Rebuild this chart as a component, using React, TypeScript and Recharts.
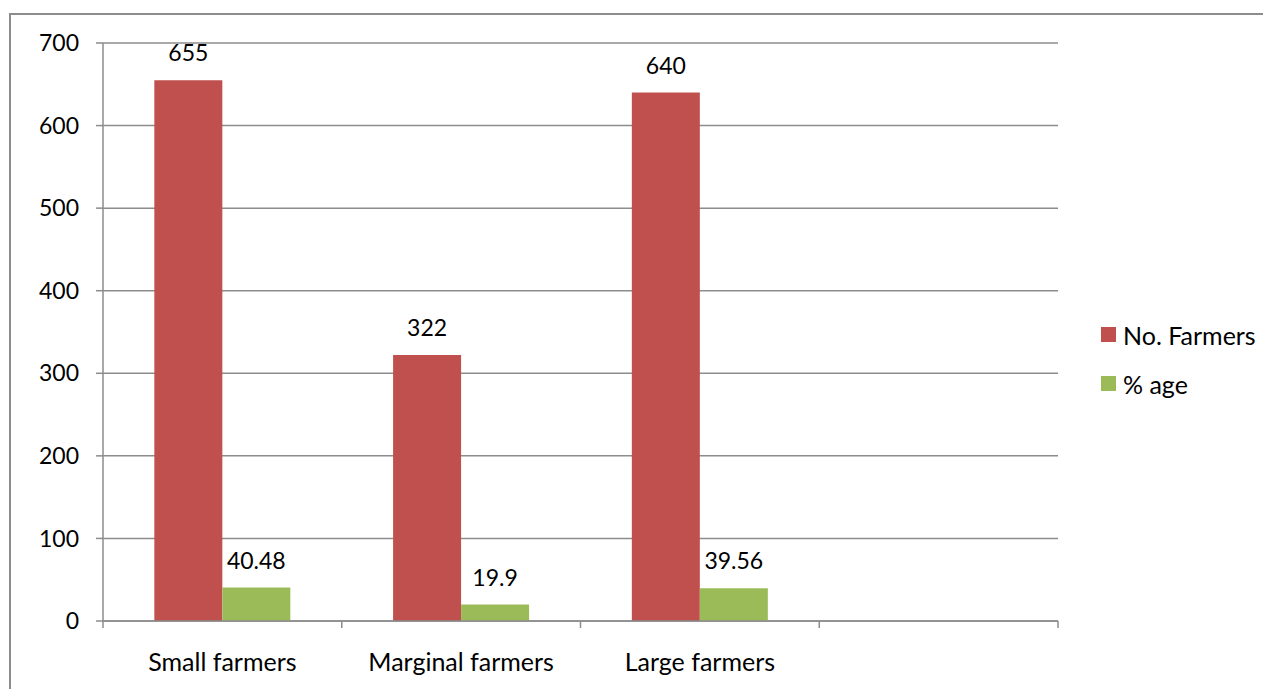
import { BarChart, Bar, XAxis, YAxis, CartesianGrid, Legend, LabelList } from 'recharts';

const categories = ['Small farmers', 'Marginal farmers', 'Large farmers', ''];
const farmers = [655, 322, 640, null];
const percentage = [40.48, 19.9, 39.56, null];
const yTicks = [0, 100, 200, 300, 400, 500, 600, 700];

const FONT = 'Lato, "Noto Sans", sans-serif';
const FS = 23;
const FS_TEXT = 25;
const GRID = '#8c8c8c';
const RED = '#C0504D';
const GREEN = '#9BBB59';

const data = categories.map((name, i) => ({
  name,
  farmers: farmers[i],
  pct: percentage[i],
}));

// category labels sit in the middle of each band, tick marks on the band edges
function EdgeTick(props: any) {
  const { x, y, payload, index } = props;
  const half = payload.offset ?? 0;
  const last = index === categories.length - 1;
  return (
    <g>
      <line x1={x - half} x2={x - half} y1={y} y2={y + 7} stroke={GRID} strokeWidth={1.5} />
      {last && <line x1={x + half} x2={x + half} y1={y} y2={y + 7} stroke={GRID} strokeWidth={1.5} />}
      <text x={x} y={y + 32} dy="0.71em" textAnchor="middle" fill="#000" fontSize={FS_TEXT} fontFamily={FONT}>
        {payload.value}
      </text>
    </g>
  );
}

function LegendBox(props: any) {
  const { payload } = props;
  return (
    <div style={{ fontFamily: FONT, fontSize: FS_TEXT }}>
      {payload.map((p: any) => (
        <div key={p.value} style={{ display: 'flex', alignItems: 'center', height: 49 }}>
          <span style={{ width: 15, height: 15, background: p.color, marginRight: 7 }} />
          <span>{p.value}</span>
        </div>
      ))}
    </div>
  );
}

export default function App() {
  return (
    <div style={{ position: 'relative', width: 1263, height: 681 }}>
      <div
        style={{
          position: 'absolute', left: 1, top: 5, width: 1262, height: 676,
          borderLeft: `2px solid ${GRID}`, borderTop: `2px solid ${GRID}`, boxSizing: 'border-box',
        }}
      />
      <BarChart
        width={1263}
        height={681}
        data={data}
        margin={{ top: 35, right: 213, bottom: 0, left: 0 }}
        barCategoryGap="21.5%"
        barGap={0}
        style={{ position: 'absolute', left: 0, top: 0 }}
      >
        <CartesianGrid vertical={false} stroke={GRID} strokeWidth={1.5} />
        <XAxis
          dataKey="name"
          height={68}
          axisLine={{ stroke: GRID, strokeWidth: 1.5 }}
          tickLine={false}
          tick={<EdgeTick />}
          tickMargin={0}
          tickSize={0}
          interval={0}
        />
        <YAxis
          width={95}
          domain={[0, 700]}
          ticks={yTicks}
          axisLine={{ stroke: GRID, strokeWidth: 1.5 }}
          tickLine={{ stroke: GRID, strokeWidth: 1.5 }}
          tickSize={7}
          tickMargin={17}
          tick={{ fill: '#000', fontSize: FS, fontFamily: FONT }}
        />
        <Legend
          layout="vertical"
          align="center"
          verticalAlign="middle"
          itemSorter="dataKey"
          content={<LegendBox />}
          wrapperStyle={{ left: 1093, top: 302, width: 170 }}
        />
        <Bar dataKey="farmers" name="No. Farmers" fill={RED} isAnimationActive={false}>
          <LabelList dataKey="farmers" position="top" offset={19} fill="#000" fontSize={FS} fontFamily={FONT} />
        </Bar>
        <Bar dataKey="pct" name="% age" fill={GREEN} isAnimationActive={false}>
          <LabelList dataKey="pct" position="top" offset={19} fill="#000" fontSize={FS} fontFamily={FONT} />
        </Bar>
      </BarChart>
    </div>
  );
}
